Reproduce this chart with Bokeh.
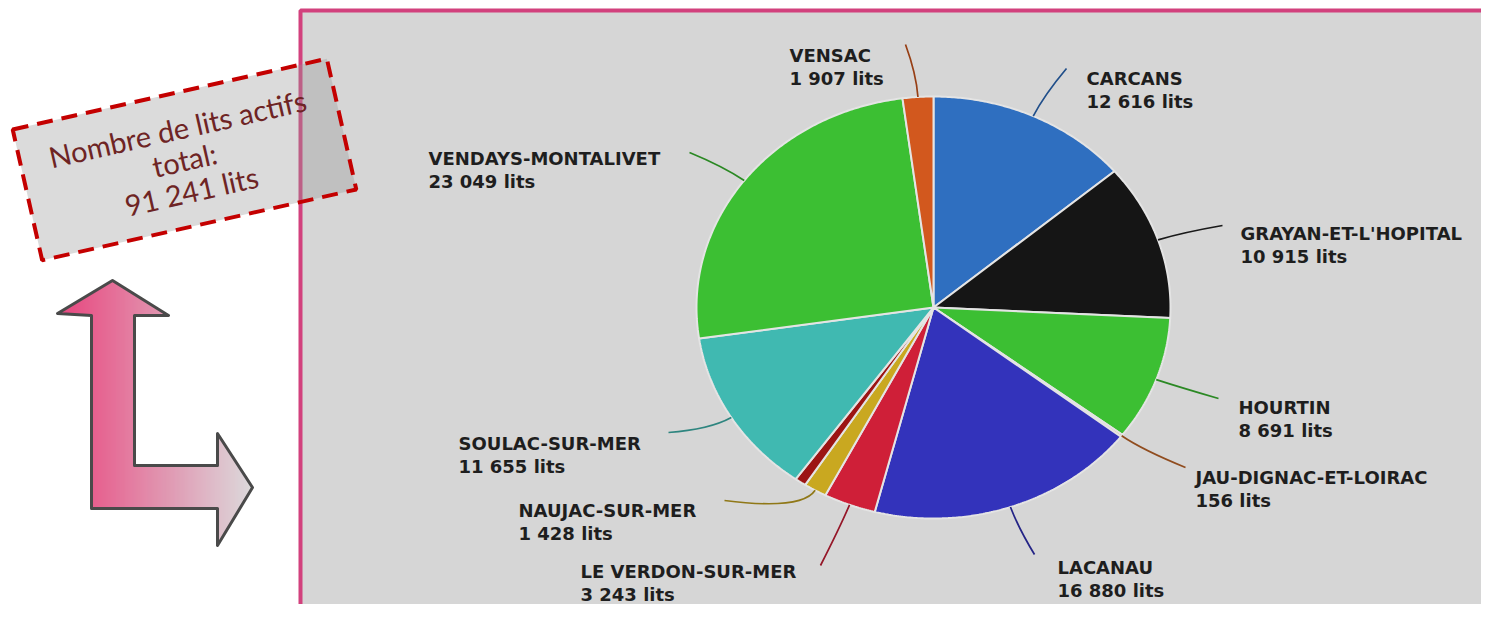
import numpy as np
from bokeh.plotting import figure
from bokeh.models import Range1d
from bokeh.core.properties import value
from bokeh.embed import file_html
from bokeh.resources import INLINE

# ---------------- data ----------------
communes = ["CARCANS", "GRAYAN-ET-L'HOPITAL", "HOURTIN", "JAU-DIGNAC-ET-LOIRAC",
            "LACANAU", "LE VERDON-SUR-MER", "NAUJAC-SUR-MER", "",
            "SOULAC-SUR-MER", "VENDAYS-MONTALIVET", "VENSAC"]
lits = [12616, 10915, 8691, 156, 16880, 3243, 1428, 701, 11655, 23049, 1907]
colors = ["#2f6fc0", "#151515", "#3cbf33", "#c96a2a", "#3333bb", "#cf1f38",
          "#c9a820", "#9c1414", "#40b9b1", "#3cbf33", "#d2581e"]
title_lines = ["Nombre de lits actifs", "total:"]
unit = "lits"

# ---------------- layout (screen-like coordinates) ----------------
label_x = [1086, 1240, 1238, 1195, 1057, 580, 518, None, 458, 428, 789]
label_y = [78, 233, 407, 477, 567, 571, 510, None, 443, 158, 55]
lead_end_x = [1066, 1222, 1218, 1185, 1034, 820, 724, None, 668, 689, 905]
lead_end_y = [68, 225, 398, 467, 554, 565, 500, None, 432, 152, 44]

CX, CY, RX, RY = 933.0, 307.0, 237.0, 211.0
W, H = 1481, 604

def fmt(v):
    return f"{v:,}".replace(",", " ")

def darker(hexc, f=0.72):
    r, g, b = (int(hexc[i:i + 2], 16) for i in (1, 3, 5))
    return "#%02x%02x%02x" % (int(r * f), int(g * f), int(b * f))

p = figure(width=W, height=H, x_range=Range1d(0, W), y_range=Range1d(H, 0),
           output_backend="svg", toolbar_location=None, min_border=0)
p.axis.visible = False
p.grid.visible = False
p.outline_line_color = None
p.background_fill_color = "white"
p.border_fill_color = "white"

# grey panel with pink border
p.quad(left=[300], right=[1700], top=[10], bottom=[800], fill_color="#d6d6d6",
       line_color="#d2417d", line_width=4)

# ---------------- pie (elliptical, clockwise from top) ----------------
total = sum(lits)
fr = np.array(lits, dtype=float) / total
starts = 90.0 - 360.0 * np.concatenate([[0.0], np.cumsum(fr)[:-1]])
ends = starts - 360.0 * fr
xs, ys = [], []
for a0, a1 in zip(starts, ends):
    t = np.radians(np.linspace(a0, a1, max(4, int(abs(a1 - a0) * 2) + 2)))
    xs.append([CX] + list(CX + RX * np.cos(t)))
    ys.append([CY] + list(CY - RY * np.sin(t)))
p.patches(xs, ys, fill_color=colors, line_color="#e4e4e4", line_width=2)

# leader lines
mids = np.radians((starts + ends) / 2)
sx0, sy0, sx1, sy1, scx, scy, scol = [], [], [], [], [], [], []
for i, m in enumerate(mids):
    if label_x[i] is None:
        continue
    sx0.append(CX + RX * np.cos(m)); sy0.append(CY - RY * np.sin(m))
    scx.append(CX + 1.11 * RX * np.cos(m)); scy.append(CY - 1.11 * RY * np.sin(m))
    sx1.append(lead_end_x[i]); sy1.append(lead_end_y[i])
    scol.append(darker(colors[i]) if colors[i] != "#151515" else "#1a1a1a")
p.quadratic(x0=sx0, y0=sy0, x1=sx1, y1=sy1, cx=scx, cy=scy, line_color=scol, line_width=1.7)

# labels
nx, ny, nt, vy, vt = [], [], [], [], []
for i in range(len(communes)):
    if label_x[i] is None:
        continue
    nx.append(label_x[i]); ny.append(label_y[i]); nt.append(communes[i])
    vy.append(label_y[i] + 23); vt.append(f"{fmt(lits[i])} {unit}")
for yy, tt in ((ny, nt), (vy, vt)):
    p.text(x=nx, y=yy, text=tt, text_font=value("DejaVu Sans"), text_font_style="bold",
           text_font_size="18px", text_color="#1e1e1e", text_baseline="alphabetic",
           text_align="left")

# ---------------- L-shaped arrow with gradient ----------------
arrow = [(112, 280), (168, 315), (134, 315), (134, 465), (217, 465), (217, 433),
         (252, 487), (217, 545), (217, 508), (91, 508), (91, 315), (57, 313)]
c0 = np.array([0xe8, 0x41, 0x7b]); c1 = np.array([0xdb, 0xd9, 0xdb])
gx0, gy0, gy1, gcol = [], [], [], []
for x in np.arange(57.5, 252.0, 1.0):
    cuts = []
    n = len(arrow)
    for k in range(n):
        (xa, ya), (xb, yb) = arrow[k], arrow[(k + 1) % n]
        if (xa <= x < xb) or (xb <= x < xa):
            cuts.append(ya + (x - xa) * (yb - ya) / (xb - xa))
    cuts.sort()
    f = (x - 57) / (252 - 57)
    c = (c0 * (1 - f) + c1 * f).astype(int)
    col = "#%02x%02x%02x" % tuple(c)
    for j in range(0, len(cuts) - 1, 2):
        gx0.append(x); gy0.append(cuts[j]); gy1.append(cuts[j + 1]); gcol.append(col)
p.segment(x0=gx0, y0=gy0, x1=gx0, y1=gy1, line_color=gcol, line_width=1.7)
p.patch([a[0] for a in arrow], [a[1] for a in arrow], fill_color=None,
        line_color="#4a4a4a", line_width=3, line_join="round")

# ---------------- rotated dashed total box ----------------
th = np.radians(12.7)
bcx, bcy, bw, bh = 184.0, 159.0, 322.0, 134.0
u = np.array([np.cos(th), -np.sin(th)]); v = np.array([np.sin(th), np.cos(th)])
cc = np.array([bcx, bcy])
corners = [cc - u * bw / 2 - v * bh / 2, cc + u * bw / 2 - v * bh / 2,
           cc + u * bw / 2 + v * bh / 2, cc - u * bw / 2 + v * bh / 2]
p.patch([q[0] for q in corners], [q[1] for q in corners], fill_color="#999999",
        fill_alpha=0.35, line_color="#c40000", line_width=4, line_dash="16 9")
box_lines = title_lines + [f"{fmt(total)} {unit}"]
for k, t in enumerate(box_lines):
    pos = cc + v * 32 * (k - 1)
    p.text(x=[pos[0]], y=[pos[1]], text=[t], angle=th, text_font=value("Lato"),
           text_font_size="29px", text_color="#6e2424", text_align="center",
           text_baseline="middle")

open("out.html", "w").write(file_html(p, INLINE))
